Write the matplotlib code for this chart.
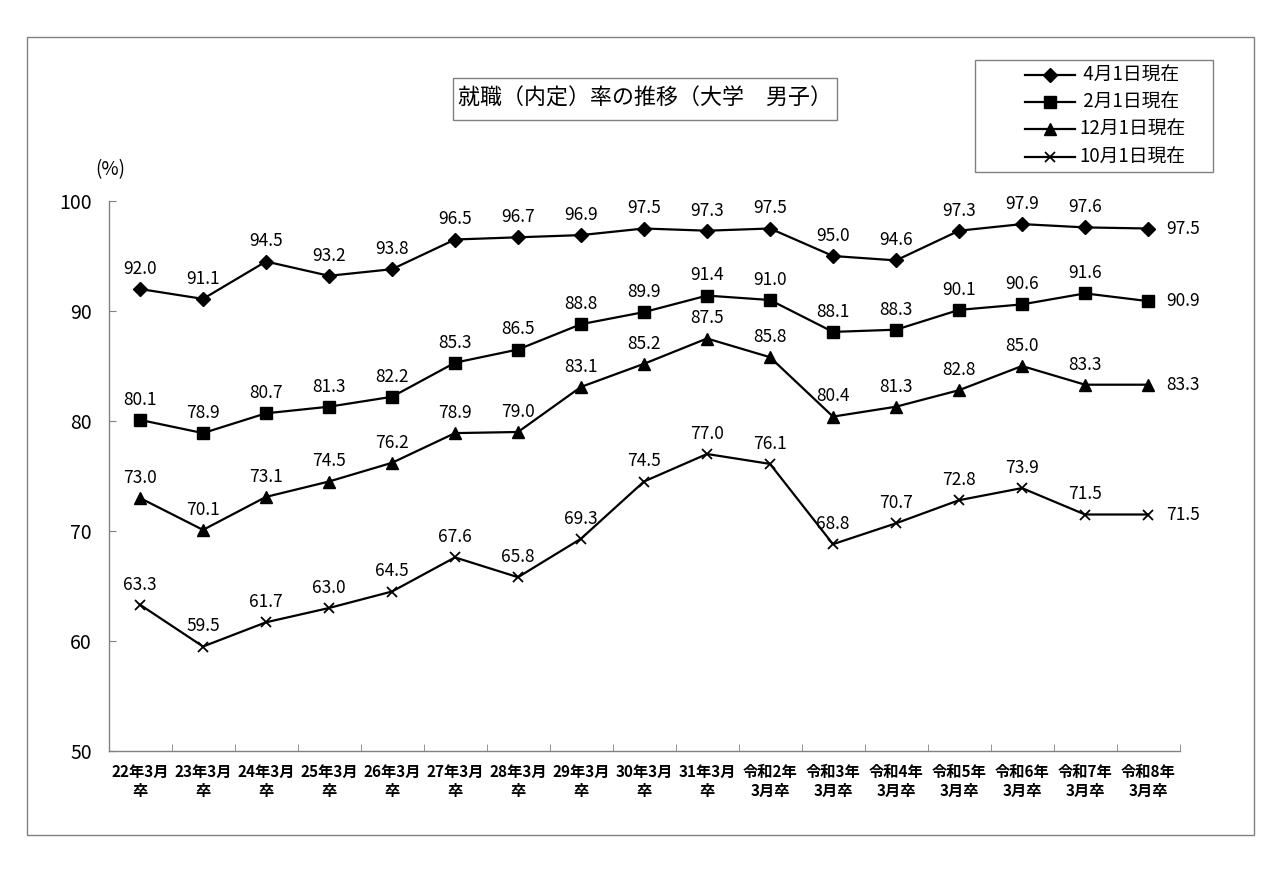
import matplotlib
matplotlib.use("Agg")
import matplotlib.pyplot as plt
from matplotlib.lines import Line2D
from matplotlib.patches import Rectangle

plt.rcParams['font.family'] = ['Noto Sans CJK JP', 'DejaVu Sans']

categories = ["22年3月\n卒", "23年3月\n卒", "24年3月\n卒", "25年3月\n卒", "26年3月\n卒",
              "27年3月\n卒", "28年3月\n卒", "29年3月\n卒", "30年3月\n卒", "31年3月\n卒",
              "令和2年\n3月卒", "令和3年\n3月卒", "令和4年\n3月卒", "令和5年\n3月卒",
              "令和6年\n3月卒", "令和7年\n3月卒", "令和8年\n3月卒"]

apr = [92.0, 91.1, 94.5, 93.2, 93.8, 96.5, 96.7, 96.9, 97.5, 97.3, 97.5, 95.0, 94.6, 97.3, 97.9, 97.6, 97.5]
feb = [80.1, 78.9, 80.7, 81.3, 82.2, 85.3, 86.5, 88.8, 89.9, 91.4, 91.0, 88.1, 88.3, 90.1, 90.6, 91.6, 90.9]
dec = [73.0, 70.1, 73.1, 74.5, 76.2, 78.9, 79.0, 83.1, 85.2, 87.5, 85.8, 80.4, 81.3, 82.8, 85.0, 83.3, 83.3]
octo = [63.3, 59.5, 61.7, 63.0, 64.5, 67.6, 65.8, 69.3, 74.5, 77.0, 76.1, 68.8, 70.7, 72.8, 73.9, 71.5, 71.5]

series_names = [" 4月1日現在", " 2月1日現在", "12月1日現在", "10月1日現在"]
yticks = [50, 60, 70, 80, 90, 100]

W, H = 1280, 889
fig = plt.figure(figsize=(12.8, 8.89), dpi=100)
fig.patch.set_facecolor('white')

def fx(px):
    return px / W

def fy(py):
    return 1 - py / H

# outer border
fig.patches.append(Rectangle((fx(27), fy(835)), fx(1254) - fx(27), fy(37) - fy(835),
                             transform=fig.transFigure, fill=False,
                             edgecolor='#808080', linewidth=1.0))

ax = fig.add_axes([fx(108.5), fy(751), fx(1179.5) - fx(108.5), fy(201) - fy(751)])
x = list(range(len(categories)))

styles = [
    dict(marker='D', markersize=7.5),
    dict(marker='s', markersize=8),
    dict(marker='^', markersize=8.5),
    dict(marker='x', markersize=7.5, markeredgewidth=1.3),
]
all_series = [apr, feb, dec, octo]
for vals, name, st in zip(all_series, series_names, styles):
    ax.plot(x, vals, color='black', linewidth=1.6, label=name, **st)
    for i, v in enumerate(vals):
        if i == len(vals) - 1:
            ax.annotate(f"{v:.1f}", (i, v), xytext=(13, 0), textcoords='offset points',
                        ha='left', va='center', fontsize=12.5)
        else:
            ax.annotate(f"{v:.1f}", (i, v), xytext=(0, 8), textcoords='offset points',
                        ha='center', va='bottom', fontsize=12.5)

ax.set_xlim(-0.5, len(categories) - 0.5)
ax.set_ylim(50, 100)
ax.set_yticks(yticks)
ax.set_yticklabels([str(t) for t in yticks], fontsize=14)
ax.set_xticks(x)
ax.set_xticklabels(categories, fontsize=11, fontweight='bold', linespacing=1.25)
ax.tick_params(axis='x', length=0, pad=9)
ax.set_xticks([i + 0.5 for i in range(-1, len(categories))], minor=True)
ax.tick_params(axis='x', which='minor', direction='in', length=5, color='#808080')
ax.tick_params(axis='y', direction='in', length=5, color='#808080', pad=12)
for s in ['top', 'right']:
    ax.spines[s].set_visible(False)
for s in ['left', 'bottom']:
    ax.spines[s].set_color('#808080')
    ax.spines[s].set_linewidth(1.0)

# title box
fig.patches.append(Rectangle((fx(453), fy(120)), fx(837) - fx(453), fy(78) - fy(120),
                             transform=fig.transFigure, fill=True, facecolor='white',
                             edgecolor='#808080', linewidth=1.0))
fig.text(fx(645), fy(99), "就職（内定）率の推移（大学　男子）", ha='center', va='center',
         fontsize=15.8)

# percent label
fig.text(fx(95), fy(170), "(%)", ha='left', va='center', fontsize=13.5)

# legend (manual, to match box geometry)
fig.patches.append(Rectangle((fx(975), fy(172)), fx(1213) - fx(975), fy(60) - fy(172),
                             transform=fig.transFigure, fill=True, facecolor='white',
                             edgecolor='#808080', linewidth=1.0))
leg_y = [75, 102, 129, 157]
for ly, name, st in zip(leg_y, series_names, styles):
    fig.add_artist(Line2D([fx(1025), fx(1075)], [fy(ly), fy(ly)], color='black',
                          linewidth=1.6, transform=fig.transFigure))
    fig.add_artist(Line2D([fx(1050)], [fy(ly)], color='black', linestyle='none',
                          transform=fig.transFigure, **st))
    fig.text(fx(1079), fy(ly), name, ha='left', va='center', fontsize=13.5)

fig.savefig("out.png", dpi=100)
